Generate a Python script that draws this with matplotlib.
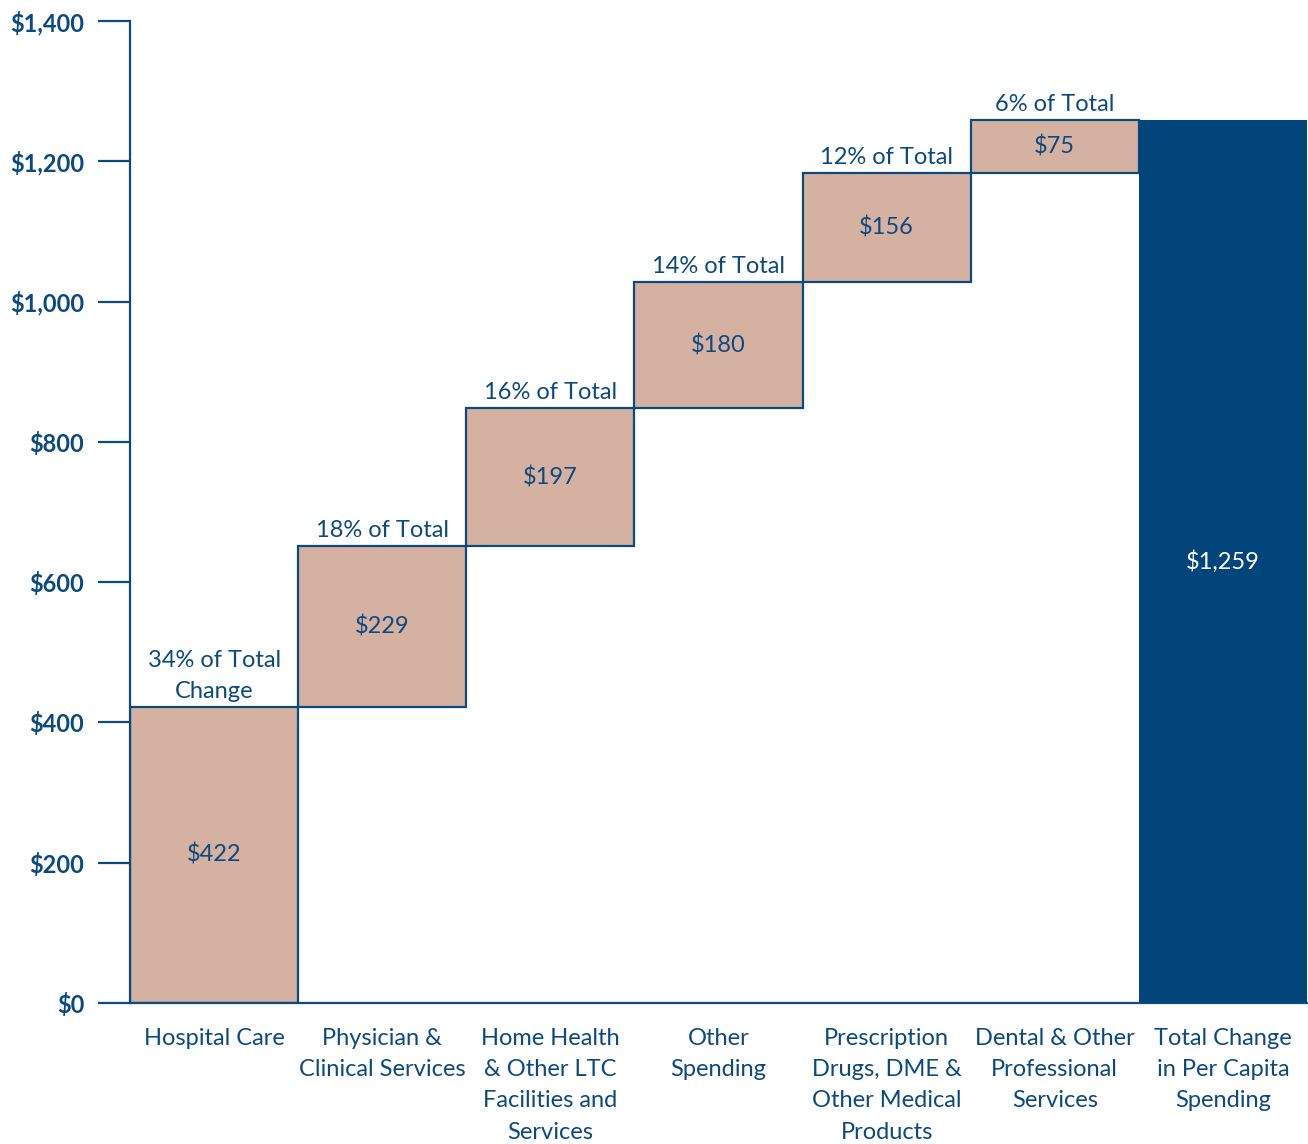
import matplotlib.pyplot as plt
import numpy as np

categories = ["Hospital Care", "Physician &\nClinical Services", "Home Health\n& Other LTC\nFacilities and\nServices",
              "Other\nSpending", "Prescription\nDrugs, DME &\nOther Medical\nProducts", "Dental & Other\nProfessional\nServices",
              "Total Change\nin Per Capita\nSpending"]
values = [422, 229, 197, 180, 156, 75]
total = 1259
pct_labels = ["34% of Total\nChange", "18% of Total", "16% of Total", "14% of Total", "12% of Total", "6% of Total"]
yticks = [0, 200, 400, 600, 800, 1000, 1200, 1400]

navy = "#0b4a80"
tan = "#d5b1a2"
dark = "#02457a"

plt.rcParams['font.family'] = ['Lato', 'DejaVu Sans']

fig = plt.figure(figsize=(13.08, 11.44), dpi=100)
ax = fig.add_axes([130/1308, 141/1144, 1177/1308, 982/1144])

bottoms = np.concatenate([[0], np.cumsum(values)[:-1]])
x = np.arange(len(values))
ax.bar(x, values, bottom=bottoms, width=1.0, color=tan, edgecolor=navy, linewidth=1.6, zorder=2)
ax.bar(len(values), total, width=1.0, color=dark, edgecolor=dark, linewidth=0, zorder=2)

for i in range(len(values)):
    ax.text(x[i], bottoms[i] + values[i] / 2, f"${values[i]}", ha='center', va='center',
            fontsize=17, color=navy)
    ax.text(x[i], bottoms[i] + values[i] + 7, pct_labels[i], ha='center', va='bottom',
            fontsize=17, color=navy, linespacing=1.6)
ax.text(len(values), total / 2, f"${total:,}", ha='center', va='center', fontsize=17, color='white')

ax.set_xlim(-0.5, 6.5)
ax.set_ylim(0, 1400)
ax.set_yticks(yticks)
ax.set_yticklabels([f"${v:,}" for v in yticks], fontsize=17, fontweight='bold', color=navy)
ax.set_xticks(np.arange(len(categories)))
ax.set_xticklabels(categories, fontsize=17, color=navy, linespacing=1.6, va='top')
ax.tick_params(axis='y', length=23, width=1.6, color=navy, pad=10)
ax.tick_params(axis='x', length=0, pad=18)
for s in ['top', 'right']:
    ax.spines[s].set_visible(False)
for s in ['left', 'bottom']:
    ax.spines[s].set_color(navy)
    ax.spines[s].set_linewidth(1.6)
    ax.spines[s].set_zorder(3)

fig.savefig("out.png", dpi=100)
